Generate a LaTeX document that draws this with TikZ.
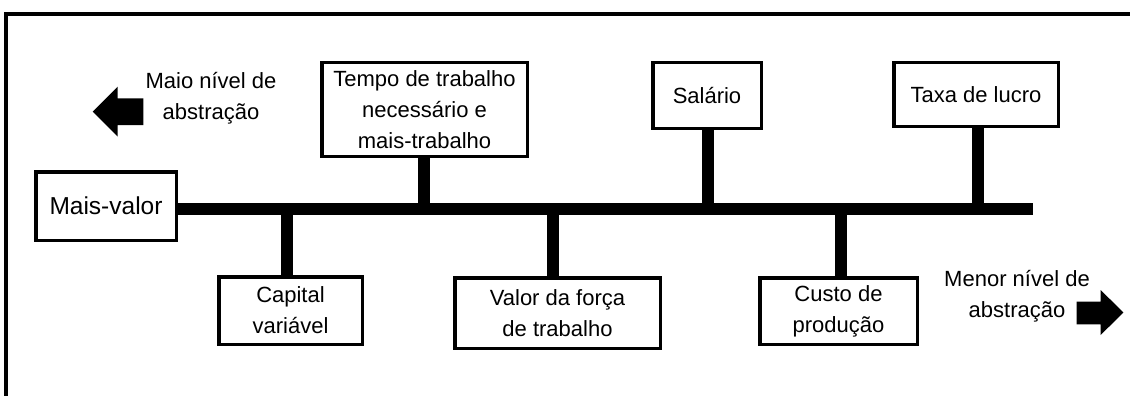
\documentclass[tikz,border=0pt]{standalone}
\usepackage{fontspec}
\setmainfont{Liberation Sans}
\begin{document}
\begin{tikzpicture}[x=1pt,y=-1pt,
  box/.style={draw=black,line width=3.5pt,fill=white,inner sep=0pt,align=center,
    font=\fontsize{22}{31}\selectfont},
  bar/.style={line width=12.5pt,line cap=butt},
  lbl/.style={align=center,inner sep=0pt,font=\fontsize{22}{31}\selectfont},
  fatarrow/.style={fill=black,draw=none}]
\useasboundingbox (0,0) rectangle (1130,396);
% frame (only top and left edges visible)
\draw[line width=4pt] (6,396) -- (6,14) -- (1130,14);
% boxes
\node[box,minimum width=140.5pt,minimum height=68.5pt,font=\fontsize{24.5}{30}\selectfont] (mv) at (106,206) {Mais-valor};
\node[box,minimum width=143.5pt,minimum height=67.5pt] (cap) at (290.5,310.5) {Capital\\variável};
\node[box,minimum width=205.5pt,minimum height=93.5pt] (tempo) at (424.5,109.5) {Tempo de trabalho\\necessário e\\mais-trabalho};
\node[box,minimum width=205.5pt,minimum height=70.5pt] (valor) at (557.5,313) {Valor da força\\de trabalho};
\node[box,minimum width=108.5pt,minimum height=65.5pt] (sal) at (707,95.5) {Salário};
\node[box,minimum width=157.5pt,minimum height=66.5pt] (custo) at (838.5,311) {Custo de\\produção};
\node[box,minimum width=164.5pt,minimum height=63.5pt] (taxa) at (976,94.5) {Taxa de lucro};
% spine
\coordinate (end) at (1033,209);
\draw[bar] (mv.east |- end) -- (end);
% stems
\draw[bar] (287,209) -- (287,0 |- cap.north);
\draw[bar] (424,209) -- (424,0 |- tempo.south);
\draw[bar] (553,209) -- (553,0 |- valor.north);
\draw[bar] (708,209) -- (708,0 |- sal.south);
\draw[bar] (841,209) -- (841,0 |- custo.north);
\draw[bar] (978,209) -- (978,0 |- taxa.south);
% labels
\node[lbl] (maio) at (211,98) {Maio nível de\\abstração};
\node[lbl] (menor) at (1017,296) {Menor nível de\\abstração};
% arrows
\fill[fatarrow] (92.7,111.7) -- (117.7,86.7) -- (117.7,98.3) -- (143.3,98.3) -- (143.3,125) -- (117.7,125) -- (117.7,136.7) -- cycle;
\fill[fatarrow] (1123.3,312.5) -- (1100.7,290) -- (1100.7,301.7) -- (1076.7,301.7) -- (1076.7,324.3) -- (1100.7,324.3) -- (1100.7,335) -- cycle;
\end{tikzpicture}
\end{document}
